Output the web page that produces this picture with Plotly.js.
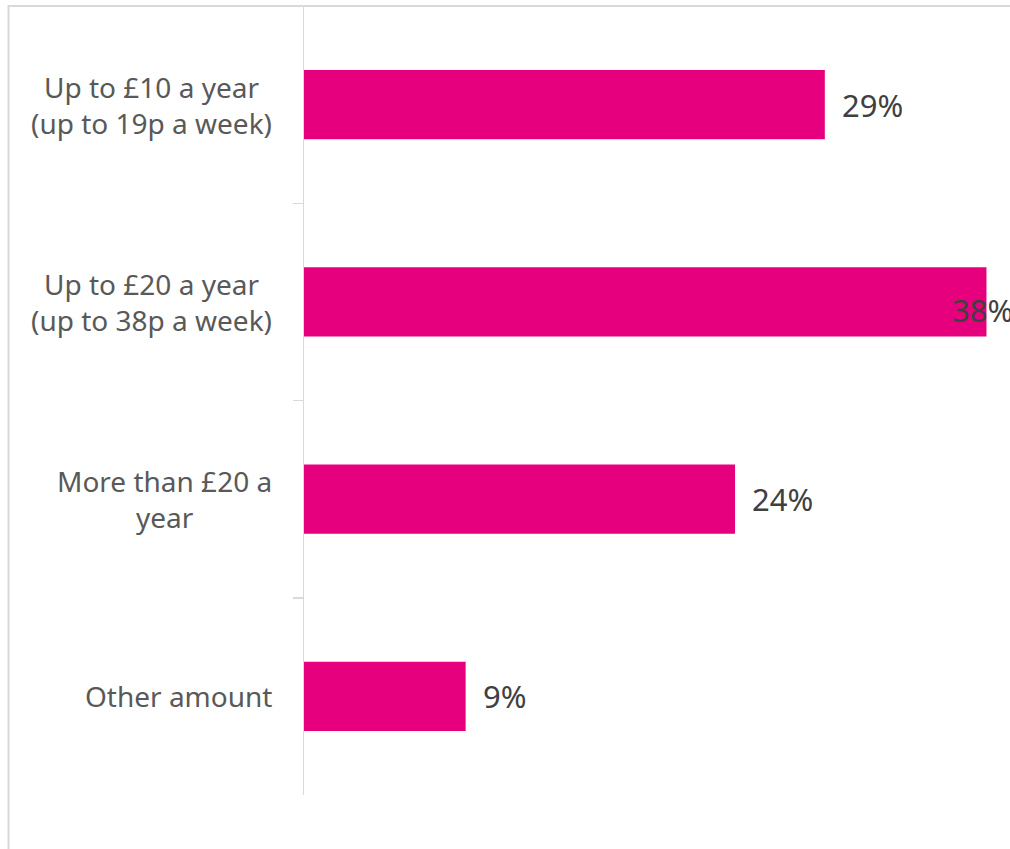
<!DOCTYPE html>
<html>
<head>
<meta charset="utf-8">
<script src="https://cdn.plot.ly/plotly-3.0.1.min.js"></script>
<style>
html,body{margin:0;padding:0;background:#fff;}
#chart{width:1010px;height:849px;}
</style>
</head>
<body>
<div id="chart"></div>
<script>
const categories = [
  "Up to £10 a year<br>(up to 19p a week)",
  "Up to £20 a year<br>(up to 38p a week)",
  "More than £20 a<br>year",
  "Other amount"
];
const values = [29, 38, 24, 9];
const valueLabels = ["29%", "38%", "24%", "9%"];

// label placement styles (pixel shifts relative to bar end)
const labelShift = [15, -36, 15, 15];
const labelYShift = [0, -8, 0, 0];

const barColor = "#E6007E";
const fontFam = "Noto Sans, Open Sans, sans-serif";

const trace = {
  type: "bar",
  orientation: "h",
  x: values,
  y: categories,
  marker: {color: barColor},
  hoverinfo: "none"
};

const valueAnnotations = values.map((v, i) => ({
  x: v,
  y: categories[i],
  xref: "x",
  yref: "y",
  text: valueLabels[i],
  showarrow: false,
  xanchor: "left",
  yanchor: "middle",
  xshift: labelShift[i],
  yshift: labelYShift[i],
  font: {family: fontFam, size: 31, color: "#404040"}
}));

// category labels, centred multi-line text to the left of the axis
const categoryAnnotations = categories.map((c) => ({
  x: 0,
  y: c,
  xref: "paper",
  yref: "y",
  text: c,
  showarrow: false,
  xanchor: "right",
  yanchor: "middle",
  align: "center",
  xshift: -30,
  font: {family: fontFam, size: 28, color: "#595959"}
}));

const layout = {
  width: 1010,
  height: 849,
  margin: {l: 304, r: 0, t: 6, b: 54},
  paper_bgcolor: "#ffffff",
  plot_bgcolor: "#ffffff",
  showlegend: false,
  bargap: 0.65,
  xaxis: {
    range: [0, 39.31],
    showgrid: false,
    zeroline: false,
    showline: false,
    showticklabels: false,
    ticks: ""
  },
  yaxis: {
    type: "category",
    autorange: "reversed",
    showgrid: false,
    zeroline: false,
    showline: true,
    linecolor: "#d9d9d9",
    linewidth: 1.5,
    ticks: "outside",
    tickson: "boundaries",
    ticklen: 10,
    tickwidth: 1.5,
    tickcolor: "#d9d9d9",
    showticklabels: false
  },
  shapes: [{
    type: "rect",
    xref: "paper",
    yref: "paper",
    x0: -0.4185,
    x1: 1.05,
    y0: -0.2,
    y1: 1.0,
    line: {color: "#d9d9d9", width: 2},
    fillcolor: "rgba(0,0,0,0)",
    layer: "below"
  }],
  annotations: categoryAnnotations.concat(valueAnnotations)
};

Plotly.newPlot("chart", [trace], layout, {displayModeBar: false, staticPlot: true});
</script>
</body>
</html>
